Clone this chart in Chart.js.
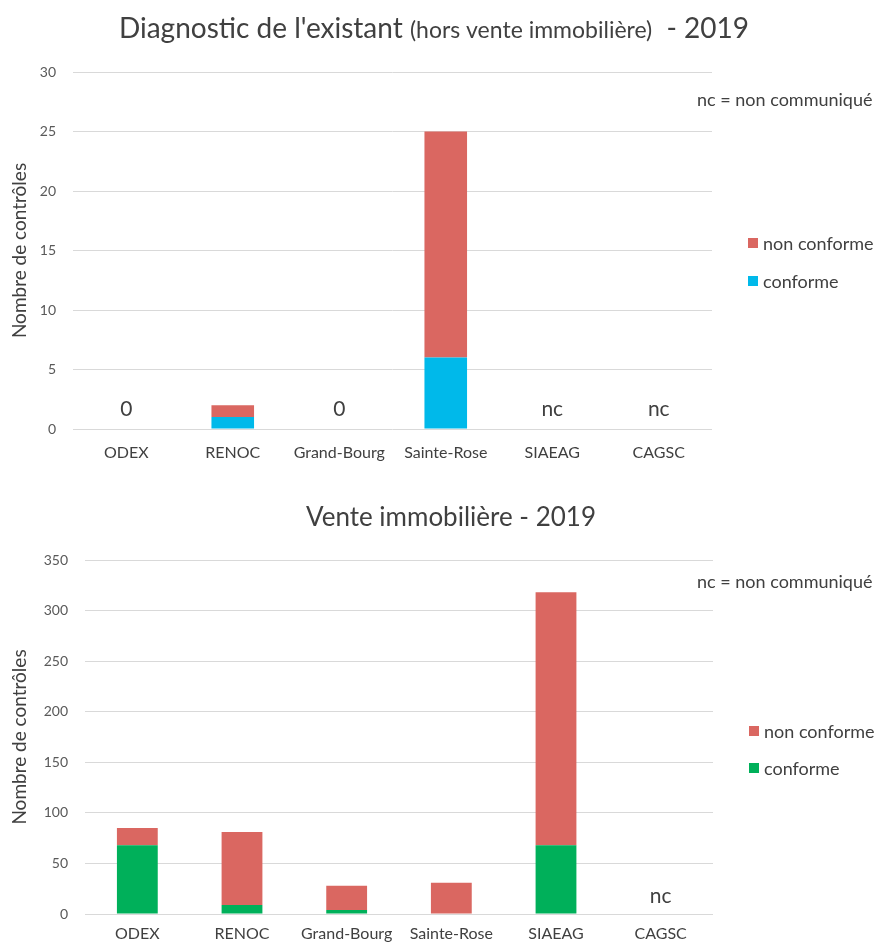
<!DOCTYPE html>
<html><head><meta charset="utf-8">
<script src="https://cdn.jsdelivr.net/npm/chart.js@4.4.0/dist/chart.umd.min.js"></script>
<style>
html,body{margin:0;padding:0;background:#fff;overflow:hidden;}
#w1{position:absolute;left:0;top:0;width:881px;height:470px;}
#w2{position:absolute;left:0;top:470px;width:881px;height:474px;}
</style></head><body>
<div id="w1"><canvas id="c1" width="881" height="470"></canvas></div>
<div id="w2"><canvas id="c2" width="881" height="474"></canvas></div>
<script>
const categories = ['ODEX','RENOC','Grand-Bourg','Sainte-Rose','SIAEAG','CAGSC'];
// Diagnostic de l'existant (hors vente immobilière) - 2019
const diagConforme    = [0, 1, 0, 6, null, null];
const diagNonConforme = [0, 1, 0, 19, null, null];
const diagNotes       = ['0', null, '0', null, 'nc', 'nc'];
const diagTicks       = [0, 5, 10, 15, 20, 25, 30];
// Vente immobilière - 2019
const venteConforme    = [68, 9, 4, 0, 68, null];
const venteNonConforme = [17, 72, 24, 31, 250, null];
const venteNotes       = [null, null, null, null, null, 'nc'];
const venteTicks       = [0, 50, 100, 150, 200, 250, 300, 350];

const RED = '#DA6761', BLUE = '#00B9EA', GREEN = '#00B05A';
const FONT = 'Lato, "Open Sans", sans-serif';
const TXT = '#404040';

const overlay = {
  id: 'overlay',
  afterDraw(chart, args, o) {
    const ctx = chart.ctx, xs = chart.scales.x, ys = chart.scales.y;
    ctx.save();
    // title
    ctx.fillStyle = TXT; ctx.textBaseline = 'alphabetic';
    let total = 0;
    o.title.forEach(p => { ctx.font = p.size + 'px ' + FONT; total += ctx.measureText(p.text).width; });
    let x = o.titleX - total / 2;
    o.title.forEach(p => { ctx.font = p.size + 'px ' + FONT; ctx.textAlign = 'left'; ctx.fillText(p.text, x, o.titleY); x += ctx.measureText(p.text).width; });
    // notes
    ctx.font = '21px ' + FONT; ctx.textAlign = 'center';
    o.notes.forEach((t, i) => { if (t) ctx.fillText(t, xs.getPixelForValue(i), ys.getPixelForValue(0) - o.noteOffset); });
    // nc legend
    ctx.font = '18px ' + FONT; ctx.textAlign = 'left';
    ctx.fillText('nc = non communiqué', o.ncX, o.ncY);
    // legend (reverse order)
    const ds = chart.data.datasets.slice().reverse();
    ds.forEach((d, i) => {
      const y = o.legY + i * o.legGap;
      ctx.fillStyle = d.backgroundColor;
      ctx.fillRect(o.legX, y - 5, 10, 10);
      ctx.fillStyle = TXT; ctx.textBaseline = 'middle';
      ctx.fillText(d.label, o.legX + 15, y + 1);
    });
    ctx.restore();
  }
};

function make(id, conf, nonConf, color, ticks, notes, o) {
  const max = ticks[ticks.length - 1], step = ticks[1] - ticks[0];
  return new Chart(document.getElementById(id), {
    type: 'bar',
    data: { labels: categories, datasets: [
      { label: 'conforme', data: conf, backgroundColor: color, barPercentage: o.bp, categoryPercentage: 1 },
      { label: 'non conforme', data: nonConf, backgroundColor: RED, barPercentage: o.bp, categoryPercentage: 1 }
    ]},
    options: {
      responsive: false, animation: false,
      layout: { padding: o.pad },
      plugins: { legend: { display: false }, tooltip: { enabled: false }, overlay: o },
      scales: {
        x: { stacked: true, grid: { display: false, drawTicks: false }, border: { display: false },
             ticks: { color: TXT, font: { family: FONT, size: 16 }, padding: o.xPad, maxRotation: 0, autoSkip: false },
             afterFit: s => { s.height = o.xH; } },
        y: { stacked: true, min: 0, max: max,
             ticks: { stepSize: step, color: '#595959', font: { family: FONT, size: 14 }, padding: 17 },
             grid: { color: '#D9D9D9', drawTicks: false }, border: { display: false },
             title: { display: true, text: 'Nombre de contrôles', color: TXT, font: { family: FONT, size: 19 }, padding: { top: 8, bottom: 0 } },
             afterFit: s => { s.width = o.yW; } }
      }
    },
    plugins: [overlay]
  });
}

make('c1', diagConforme, diagNonConforme, BLUE, diagTicks, diagNotes, {
  bp: 0.4, pad: { top: 72, right: 169, bottom: 6, left: 0 }, xH: 35, yW: 73, xPad: 14,
  title: [{ text: "Diagnostic de l'existant ", size: 28 }, { text: '(hors vente immobilière)', size: 23 }, { text: '  - 2019', size: 28 }],
  titleX: 434, titleY: 38, notes: diagNotes, noteOffset: 13, ncX: 697, ncY: 106, legX: 748, legY: 243, legGap: 38
});
make('c2', venteConforme, venteNonConforme, GREEN, venteTicks, venteNotes, {
  bp: 0.39, pad: { top: 90, right: 168, bottom: 0, left: 0 }, xH: 30, yW: 85, xPad: 10,
  title: [{ text: 'Vente immobilière - 2019', size: 26 }],
  titleX: 451, titleY: 56, notes: venteNotes, noteOffset: 11, ncX: 697, ncY: 118, legX: 749, legY: 261, legGap: 37
});
</script>
</body></html>
